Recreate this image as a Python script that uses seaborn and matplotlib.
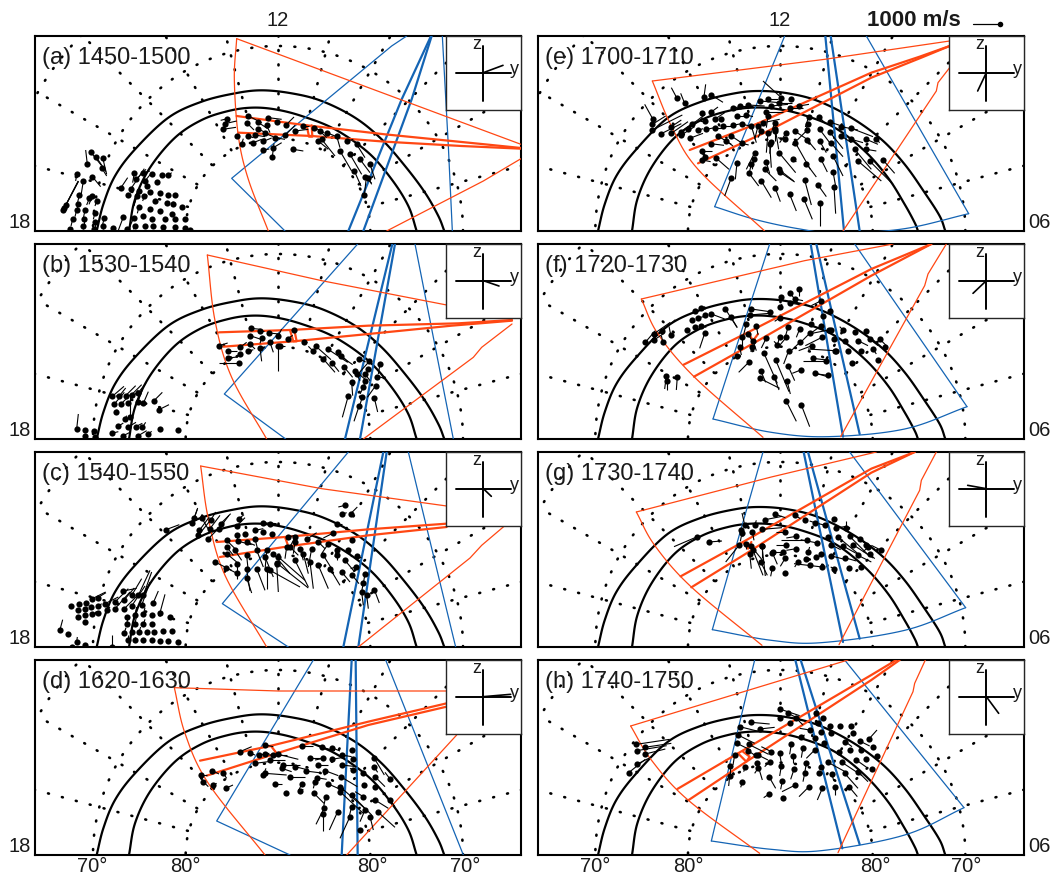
import numpy as np
import matplotlib
matplotlib.use("Agg")
import matplotlib.pyplot as plt
from matplotlib.collections import LineCollection
import pandas as pd
import seaborn as sns

# ---------- data: map positions (x, y, stick dx, stick dy) ----------
titles = ["(a) 1450-1500", "(b) 1530-1540", "(c) 1540-1550", "(d) 1620-1630",
          "(e) 1700-1710", "(f) 1720-1730", "(g) 1730-1740", "(h) 1740-1750"]

a_vec = [(157,385,-5,-43),(167,348,32,40),(203,365,12,50),(183,362,30,45),(200,395,15,25),(172,422,25,30),
 (125,415,-3,20),(92,508,38,-73),(85,522,45,-85),(88,515,42,-80),(145,435,-8,50),(172,480,-10,25),(133,478,-5,20),(130,505,-5,20),
 (125,522,-5,20),(113,550,-5,20),(150,522,-5,25),(148,550,0,15),(145,570,0,10),(180,530,-5,20),(185,495,-5,15),
 (163,487,-8,20),(105,578,0,5),(180,558,0,15),(208,545,-5,20),(205,570,0,10),(235,577,0,5),(178,578,0,5),
 (298,410,-5,30),(303,430,30,-30),(325,410,20,-5),(330,435,20,-25),(258,455,20,-30),(288,458,40,-60),
 (350,415,5,-5),(380,418,0,0),(400,418,10,-8),(365,437,0,0),(335,450,0,0),(312,465,-15,40),(345,468,0,0),(375,472,0,0),
 (400,478,0,0),(420,478,0,0),(280,478,5,-5),(305,480,-8,30),(328,480,-5,15),(360,495,0,0),(395,500,0,0),(415,503,0,0),(440,512,0,0),
 (312,512,-5,20),(345,520,0,0),(375,525,0,0),(410,535,0,0),(325,540,0,0),(352,548,0,0),(390,550,0,0),(420,550,0,0),
 (450,548,0,0),(265,543,-15,40),(297,545,-15,30),(300,570,-5,10),(330,570,0,0),(355,570,0,0),(385,572,0,0),(420,572,0,0),
 (450,575,0,0),(275,578,0,5),(465,583,0,0),
 (577,248,-20,5),(570,263,35,-8),(563,280,40,-6),(607,300,5,-5),(640,240,40,20),(637,262,20,20),(668,258,30,20),
 (700,245,40,5),(695,268,10,22),(725,258,5,5),(752,268,25,-25),(668,278,20,10),(640,300,15,5),(660,297,30,5),
 (690,292,25,10),(720,305,30,5),(750,298,30,-30),(620,323,5,-15),(655,320,25,-10),(685,316,25,-10),(715,335,25,-15),
 (683,342,20,-3),(712,362,5,-40),(775,340,30,5),(780,285,40,-5),(803,270,20,0),
 (838,275,30,15),(855,285,20,20),(875,290,25,10),(905,300,10,35),(850,315,30,25),(860,310,40,50),(935,315,20,-5),
 (915,345,35,60),(965,325,25,40),(945,355,35,60),(975,370,30,40),(1005,385,15,45),(958,405,20,45),(990,422,20,20),
 (1000,425,10,20),(988,478,5,-45)]
b_vec = [(232,457,35,-30),(252,457,20,-25),(272,455,30,-30),(290,452,30,-30),(308,448,25,-30),(238,480,30,-35),
 (258,480,30,-30),(280,478,30,-40),(308,475,15,-40),(325,478,15,-35),(242,505,5,-8),(270,525,5,-10),(250,547,15,-10),
 (278,550,25,-15),(302,548,20,-10),(322,550,10,-15),(357,470,25,-25),(372,497,30,-15),(125,555,5,-45),(150,558,5,5),
 (150,575,0,8),(178,560,0,8),(375,555,0,0),(430,558,0,0),(180,578,10,0),(230,568,20,-5),(265,575,20,-10),(310,575,25,-15),
 (340,570,10,-8),(285,520,0,-70),
 (647,253,30,3),(675,260,12,0),(702,267,30,3),(730,275,10,-20),(778,258,0,0),(645,275,30,10),(680,283,-5,15),(645,300,15,15),
 (705,295,10,30),(758,284,15,-10),(808,295,8,0),(553,305,25,-8),(580,320,25,0),(615,310,20,-15),(640,322,15,-5),(675,312,5,40),
 (730,305,0,75),(578,342,30,-3),(612,358,-60,0),(735,305,15,0),(615,330,-10,10),
 (843,307,45,40),(835,322,-15,-15),(878,315,60,40),(910,325,30,30),(865,345,35,40),(892,358,20,25),(918,337,35,25),
 (972,344,20,10),(1003,352,-40,45),(1035,360,-5,30),(928,370,25,30),(960,380,35,30),(990,390,15,20),(1027,398,25,5),
 (950,415,3,40),(985,430,-10,20),(1022,425,-25,35),(1018,462,10,42),(940,455,-18,65),(982,460,-10,30),(972,487,-15,45),
 (1000,375,-10,25),(990,410,-5,25),(965,390,10,20)]
c_vec = [(108,462,0,0),(132,457,0,0),(152,452,0,0),(172,440,40,-20),(188,437,25,-15),(130,475,0,0),(150,470,0,0),(168,465,5,-5),
 (190,463,10,-8),(210,455,40,-20),(240,450,40,-40),(268,443,30,-35),(265,417,40,-8),(130,495,0,0),(150,490,0,0),(170,487,0,0),
 (190,483,0,0),(215,475,10,-10),(240,470,45,-50),(268,470,40,-40),(290,462,40,-60),(320,460,25,-70),(150,510,0,0),(310,430,35,-75),
 (325,430,25,-70),(290,430,30,-50),(355,452,15,-35),(375,482,15,-55),(275,495,0,0),(300,490,5,-25),(325,487,5,-20),(350,490,0,0),
 (275,515,5,-20),(300,515,5,-25),(325,517,5,-15),(350,515,0,0),(268,542,5,-15),(290,540,5,-25),(312,540,5,-15),(335,540,0,0),
 (358,540,0,0),(385,538,0,0),(410,538,0,0),(280,565,0,-15),(300,565,0,-10),(325,565,0,0),(350,565,0,0),(375,567,0,0),(400,567,0,0),
 (430,570,0,0),(75,533,8,-30),(100,547,0,0),(125,570,2,-15),(150,580,0,0),(110,585,0,0),(230,585,0,-35),(405,495,0,0),
 (393,233,40,-15),(472,212,15,-40),(478,198,10,-30),(500,197,20,35),(493,235,30,-40),(490,250,40,-50),(527,205,15,-25),
 (525,230,30,-40),(552,230,30,-40),(518,262,50,-50),(557,215,30,-30),(605,222,25,-25),(612,200,15,-12),
 (575,265,25,25),(607,250,0,20),(630,247,0,-5),(660,235,25,-5),(685,212,40,3),(685,240,0,0),(712,245,0,0),(705,215,30,5),
 (610,268,40,10),(635,270,25,10),(660,260,10,40),(575,285,20,25),(600,295,20,30),(575,305,30,25),(540,330,50,25),(572,347,40,20),
 (605,337,0,35),(605,362,0,20),(635,310,5,50),(665,295,20,50),(695,295,-5,60),(690,315,25,60),(635,352,10,65),(635,378,15,45),
 (665,350,25,65),(695,352,0,60),(725,335,5,85),(715,305,50,60),(705,355,90,50),(755,285,-5,35),(725,333,95,75),(730,315,80,70),
 (760,255,20,-5),(780,255,-15,30),(815,262,30,-20),(780,270,-5,35),(765,285,25,25),(795,290,10,35),(780,325,40,80),(805,305,15,60),
 (830,290,-10,55),(825,330,10,80),(850,340,30,70),(850,270,20,20),(865,310,25,40),(885,350,30,50),(880,275,-20,30),(895,243,-30,15),
 (905,295,-5,20),(905,310,0,15),(930,325,25,30),(920,360,25,30),(940,295,10,20),(950,265,0,0),(965,313,15,5),(962,345,-15,5),
 (952,370,20,25),(990,365,-5,30),(985,393,-5,25),(980,420,5,40),(1018,413,15,40),(995,430,5,40),(930,160,-20,5),(920,187,15,-5),
 (947,185,20,-20),(905,215,15,0)]
d_vec = [(572,385,22,-10),(535,375,10,-5),(505,365,15,15),(497,345,20,0),(532,332,20,10),(565,340,10,15),(615,275,35,-15),(645,280,15,5),
 (690,255,25,5),(673,285,30,-5),(660,310,40,-5),(690,283,40,5),(705,300,45,0),(715,285,40,0),(730,283,60,15),(690,340,65,5),(685,345,8,-20),
 (745,315,50,0),(740,325,30,10),(765,352,45,0),(720,373,22,0),(780,320,40,10),(800,258,35,0),(825,293,40,0),(812,333,40,5),(850,315,30,0),
 (845,353,30,5),(840,365,-5,20),(870,332,40,15),(865,295,-25,5),(890,298,30,-5),(880,372,45,20),(860,262,40,10),(890,263,25,10),(920,285,30,5),
 (920,315,45,5),(917,350,50,30),(950,270,5,5),(955,298,5,5),(955,330,-10,-5),(985,340,5,5),(1018,295,30,50),(1018,322,10,15),(1020,350,30,30),
 (987,375,5,5),(1020,380,5,5),(1065,357,-15,-20),(985,410,-25,-15),(1020,420,40,25),(1065,420,15,20),(950,405,60,60),(915,380,80,70),(915,395,70,65),
 (800,373,-10,20),(795,393,10,-5),(752,400,5,5),(837,400,30,30),(872,410,-8,40),(868,443,-25,50),(865,462,0,50),(908,455,-25,55),(950,440,-10,40),
 (945,470,-30,65),(990,450,-15,35),(1030,457,50,45),(1005,470,10,40),(975,510,5,5)]
e_vec = [(345,250,-25,-45),(417,187,-17,-32),(440,202,-12,-30),(498,182,5,-37),(520,177,35,22),(343,265,40,-25),(343,282,90,-45),(370,293,60,-30),
 (400,272,30,-20),(400,292,50,-35),(430,287,40,-30),(430,297,40,-25),(455,307,40,-15),(450,280,45,-35),(462,265,40,-30),(492,232,0,-5),(520,228,20,-15),
 (500,255,-15,0),(530,250,30,-20),(548,250,0,-5),(480,283,15,-5),(505,280,25,-5),(530,275,25,0),(555,270,30,0),(585,268,25,-5),(612,265,25,5),(598,240,30,0),
 (625,237,20,5),(585,215,35,-3),(605,210,40,0),(630,207,50,3),(665,195,60,5),(690,190,30,0),(730,185,-55,-50),(758,190,0,0),(685,228,50,0),(700,210,50,-5),
 (722,200,40,0),(755,217,40,0),(783,210,30,-5),(580,300,30,20),(540,300,40,25),(565,315,20,15),(612,322,20,5),(518,323,40,5),(493,345,30,0),(533,365,40,35),
 (500,362,-5,20),(493,372,25,5),(640,270,15,50),(660,270,-10,40),(675,260,50,-10),(690,240,-5,35),(710,260,-10,30),(745,290,-20,30),(710,285,0,30),(690,290,-5,60),
 (700,318,-5,35),(670,285,-10,20),(695,325,5,70),(712,280,10,60),(740,310,-20,-5),(770,285,45,30),(812,243,-10,30),(810,265,-8,20),(808,282,-45,45),(808,312,25,30),
 (843,243,20,20),(875,258,30,10),(845,315,20,35),(845,280,30,40),(875,288,40,50),(910,272,50,10),(940,277,65,25),(880,322,35,40),(910,300,30,20),(940,310,35,10),
 (985,310,35,15),(1015,310,10,10),(985,340,30,5),(950,340,50,60),(885,360,30,60),(960,375,70,60),(995,375,70,70),(1035,372,35,40),(772,320,45,80),(723,350,50,60),
 (650,350,-25,50),(640,385,-5,20),(632,410,30,40),(680,400,35,35),(722,400,45,35),(725,408,45,30),(765,368,10,10),(805,383,30,40),(848,368,20,40),(800,432,20,75),
 (840,447,25,35),(885,407,10,55),(888,453,5,80),(712,457,15,40),(670,435,30,50),(755,475,20,50),(798,490,25,60),(845,500,0,70),(580,425,-20,55),(597,380,-5,50),
 (648,370,-5,30),(685,378,10,35)]
f_vec = [(322,295,30,-35),(347,270,50,-35),(372,262,40,-35),(348,288,30,-20),(375,295,-5,-20),(398,272,-5,-25),(448,258,0,0),(470,250,0,0),(470,200,0,0),(490,192,0,0),
 (480,222,20,-5),(500,212,0,0),(520,210,40,15),(462,228,0,0),(490,245,15,5),(500,268,-15,45),(562,195,35,55),(578,218,20,33),(635,213,60,-5),(640,195,55,8),(697,203,0,0),
 (730,158,0,-5),(757,148,15,20),(783,135,0,20),(727,190,5,-10),(755,177,30,5),(725,222,-15,10),(770,165,25,5),(625,240,-10,40),(630,270,15,25),(655,247,5,25),(612,278,0,35),
 (605,308,5,25),(645,290,10,30),(685,282,-15,30),(643,308,-5,15),(597,335,-10,10),(725,278,-8,30),(750,250,-10,35),(745,280,-25,30),(785,255,-10,25),(820,240,0,0),(850,245,-35,25),
 (815,268,-30,30),(787,293,-25,25),(822,305,-40,15),(852,280,-50,25),(872,258,-50,10),(752,320,-15,40),(718,302,-10,-10),(678,328,40,90),(713,348,40,95),(750,365,20,45),(632,355,-30,30),
 (668,380,15,35),(665,403,60,30),(708,398,15,40),(747,410,10,40),(788,378,-25,10),(830,387,35,10),(870,394,-40,-5),(825,343,40,5),(865,350,-70,0),(890,320,-80,-5),(745,472,30,60),
 (790,483,25,65),(888,285,0,0),(920,290,0,0),(930,320,0,0),(895,320,0,0),(915,258,-10,-10),(950,263,0,0),(985,262,0,0),(960,290,30,15),(995,285,25,20),(968,320,5,5),(1005,315,10,15),
 (1025,285,20,20),(1040,310,0,0),(1020,347,0,0),(942,358,0,0),(385,395,-5,40),(387,412,0,25),(418,398,-3,40),(855,215,0,0),(875,200,0,0),(850,170,-30,15),(880,258,0,0)]
g_vec = [(478,254,-70,30),(512,270,40,-3),(620,218,-8,-35),(650,220,5,-15),(682,203,50,-10),(712,187,30,10),(772,190,15,10),(800,203,0,0),(830,212,-15,-5),(862,220,-20,-5),
 (888,200,0,0),(895,228,30,-5),(925,227,0,-20),(612,243,-5,25),(643,240,5,25),(672,232,60,-5),(740,240,-25,0),(775,253,-30,5),(808,265,-80,0),(838,273,-50,-10),(870,255,0,-5),
 (900,255,60,50),(935,253,60,60),(965,262,45,30),(990,285,-15,15),(1030,295,-30,-15),(745,278,-30,0),(775,290,-30,5),(810,300,5,-15),(603,280,-40,50),(640,283,40,50),(672,282,0,35),
 (705,300,25,0),(703,302,15,35),(735,300,10,5),(742,318,-15,25),(668,330,20,40),(635,305,5,45),(703,348,-5,25),(742,362,0,0),(780,330,-10,15),(815,340,0,0),(853,345,-85,-10),(888,350,-10,-5),
 (932,347,0,0),(970,345,0,0),(850,307,-10,10),(880,312,40,10),(920,317,35,10),(960,310,40,20),(878,278,30,15),(915,282,45,25),(945,278,60,40),(985,278,0,0),(995,305,15,15),(835,315,0,0),
 (805,320,0,0),(610,235,5,20),(625,275,0,15),(645,295,30,75),(672,282,10,90)]
h_vec = [(272,338,50,-40),(298,312,40,-20),(296,272,90,-15),(320,262,80,-12),(295,253,100,-15),(322,282,60,-15),(725,147,60,20),(750,160,40,20),(775,175,20,20),(640,187,55,5),
 (727,173,0,0),(755,190,0,0),(665,207,45,-5),(605,200,60,15),(835,160,-5,10),(855,173,0,-5),(840,190,0,0),(875,197,0,0),(907,197,0,0),(938,198,0,0),(945,220,0,5),(992,238,25,-28),
 (815,210,-30,-5),(790,230,10,-5),(850,215,0,0),(880,220,0,0),(922,245,20,15),(965,243,30,15),(1005,262,0,0),(968,270,0,0),(858,248,0,0),(830,235,0,0),(600,225,50,25),(597,250,40,20),
 (632,253,60,30),(590,285,-5,30),(630,272,30,20),(660,285,30,15),(622,320,-5,15),(575,318,0,25),(575,348,-3,30),(613,367,-5,15),(660,325,-10,15),(695,305,-15,15),(730,318,-5,30),(765,288,0,20),
 (795,263,-5,30),(760,253,-5,30),(725,280,5,30),(830,270,-25,25),(805,310,-5,30),(768,328,-10,30),(693,350,20,35),(733,363,-5,25),(800,340,-5,25),(843,340,0,0),(882,342,5,20),(920,340,40,45),
 (960,335,30,30),(955,300,35,25),(870,307,55,30),(912,307,60,40),(903,275,0,10),(935,270,0,0),(985,297,0,0),(1002,327,0,0),(1018,288,0,0),(890,380,0,25),(933,380,25,30),(853,385,-15,35),
 (813,380,-30,30),(772,375,-40,20),(692,403,-15,10),(735,413,0,0),(655,285,0,0),(658,310,15,50),(700,275,-30,-15),(850,320,0,0)]

# radar fields of view
blue_thin = [
 [[(1115,0),(1070,30),(590,427),(750,585)], [(1222,0),(1240,330),(1252,585)]],
 [[(968,0),(568,450),(752,585)], [(1140,0),(1255,585)]],
 [[(940,0),(562,455),(760,585)], [(1120,0),(1262,585)]],
 [[(835,0),(545,483),(765,585)], [(1052,0),(1285,585)]],
 [[(740,0),(530,512)], [(1292,533),(985,0)]],
 [[(695,0),(525,525)], [(1287,488),(950,0)]],
 [[(675,0),(523,533)], [(1283,467),(935,0)]],
 [[(650,0),(520,543)], [(1278,443),(920,0)]]]
blue_arc = [None, None, None, None,
 [(530,512),(650,550),(780,578),(900,592),(1100,578),(1292,533)],
 [(525,525),(700,565),(870,578),(1100,555),(1287,488)],
 [(523,533),(700,565),(850,572),(1100,535),(1283,467)],
 [(520,543),(700,568),(850,572),(1100,525),(1278,443)]]
blue_thick = [
 [[(1188,0),(1100,190),(940,585)], [(1190,0),(1130,190),(985,585)]],
 [[(1072,0),(930,585)], [(1080,0),(975,585)]],
 [[(1045,0),(925,585)], [(1055,0),(970,585)]],
 [[(950,0),(920,585)], [(962,0),(968,585)]],
 [[(862,0),(918,585)], [(878,0),(965,585)]],
 [[(818,0),(915,578)], [(835,0),(965,570)]],
 [[(797,0),(915,570)], [(810,0),(965,560)]],
 [[(772,0),(913,565)], [(788,0),(965,553)]]]
red_thin = [
 [[(605,8),(1458,325)], [(1055,585),(1345,435),(1458,368)]],
 [[(517,33),(860,110),(1235,183)], [(985,585),(1315,340),(1340,310),(1431,240)]],
 [[(497,42),(860,110),(1235,162)], [(970,585),(1305,318),(1340,280),(1440,195)]],
 [[(418,83),(730,93),(1235,93)], [(935,585),(1265,225)]],
 [[(343,135),(860,70),(1235,15)], [(915,585),(1195,165),(1200,140),(1235,95)]],
 [[(310,165),(800,50),(1065,0)], [(908,578),(1160,125),(1170,90),(1225,0)]],
 [[(295,180),(700,75),(1015,0)], [(903,578),(1145,115),(1150,85),(1195,0)]],
 [[(278,198),(650,85),(930,0)], [(900,578),(1125,95),(1130,70),(1162,0)]]]
red_arc = [
 [(605,8),(598,130),(610,300),(640,430),(700,585)],
 [(517,33),(540,230),(590,400),(695,585)],
 [(497,42),(520,200),(570,370),(695,585)],
 [(418,83),(450,220),(520,370),(690,585)],
 [(343,135),(400,270),(480,400),(680,585)],
 [(310,165),(360,270),(470,400),(675,580)],
 [(295,180),(350,280),(460,405),(672,580)],
 [(278,198),(340,300),(450,420),(665,580)]]
red_thick = [
 [[(605,240),(815,268),(1050,295),(1350,325),(1458,336)], [(610,290),(830,300),(1050,317),(1280,330),(1458,338)], [(815,268),(822,302),(832,302),(830,268)]],
 [[(552,265),(765,258),(1000,245),(1270,238),(1431,228)], [(565,308),(775,292),(1000,270),(1250,245),(1431,230)], [(765,258),(775,292),(785,292),(778,258)]],
 [[(545,270),(750,255),(1000,232),(1235,215)], [(555,315),(760,283),(1000,250),(1235,225)], [(750,255),(760,283)]],
 [[(495,302),(705,258),(1000,185),(1235,130)], [(515,347),(725,280),(1000,195),(1235,140)], [(690,258),(708,258),(725,280)]],
 [[(455,342),(660,262),(1000,110),(1145,62),(1235,30)], [(480,382),(680,290),(1000,125),(1150,65),(1235,30)], [(660,262),(672,290)]],
 [[(437,362),(630,265),(1000,75),(1180,0)], [(468,398),(660,290),(1000,95),(1180,0)], [(630,265),(645,290),(660,270)]],
 [[(428,373),(615,270),(1000,50),(1130,0)], [(460,406),(640,295),(1000,62),(1130,0)], [(615,270),(630,290),(640,270)]],
 [[(418,387),(600,280),(1000,45),(1075,0)], [(452,420),(625,305),(1000,60),(1085,0)], [(600,280),(625,305),(635,290),(615,275)]]]

inset_stick = [(59,-22),(47,16),(24,23),(82,-7),(-26,55),(-40,38),(-56,-10),(37,50)]

oval_outer_left = [(185,585),(205,505),(240,420),(300,340),(400,245),(500,197),(600,172),(680,163),(770,172),(860,195),(960,245),(1040,310),(1110,390),(1170,470),(1210,540),(1228,585)]
oval_inner_left = [(282,585),(300,490),(345,395),(420,305),(500,252),(580,225),(650,215),(720,220),(800,240),(900,280),(1000,350),(1070,430),(1120,510),(1145,585)]
oval_outer_right = [(180,585),(200,505),(235,420),(295,340),(390,245),(490,197),(590,172),(665,165),(750,172),(840,195),(940,245),(1030,310),(1100,385),(1160,470),(1205,540),(1222,585)]
oval_inner_right = [(282,585),(298,490),(340,395),(410,305),(490,252),(570,225),(640,215),(710,218),(790,235),(890,275),(980,345),(1050,425),(1100,505),(1130,560),(1140,585)]

latitudes = ["70°", "80°", "80°", "70°"]
hour_top, hour_left, hour_right = "12", "18", "06"
speed_label = "1000 m/s"

all_vec = [a_vec, b_vec, c_vec, d_vec, e_vec, f_vec, g_vec, h_vec]

# ---------- style ----------
sns.set_theme(style="white")
plt.rcParams["font.family"] = ["Liberation Sans", "DejaVu Sans"]
plt.rcParams["path.simplify"] = False
RED, BLUE = "#FF4713", "#1464B4"
W, H = 1051, 877
fig = plt.figure(figsize=(W / 100, H / 100), dpi=100, facecolor="white")
tops = [36, 244, 452, 660]
lefts = [35, 538]
PW, PH = 486, 195


def smooth(pts, n=12):
    p = np.array(pts, float)
    p = np.vstack([2 * p[0] - p[1], p, 2 * p[-1] - p[-2]])
    out = []
    for i in range(1, len(p) - 2):
        for t in np.linspace(0, 1, n, endpoint=False):
            out.append(0.5 * ((2 * p[i]) + (p[i + 1] - p[i - 1]) * t
                              + (2 * p[i - 1] - 5 * p[i] + 4 * p[i + 1] - p[i + 2]) * t ** 2
                              + (3 * p[i] - p[i - 1] - 3 * p[i + 1] + p[i + 2]) * t ** 3))
    out.append(p[-2])
    return np.array(out)


def poly(ax, pts, color, lw, z=3, curved=False):
    q = smooth(pts) if curved else np.array(pts, float)
    ax.plot(q[:, 0], q[:, 1], color=color, lw=lw, zorder=z, solid_joinstyle="round")


def add_grid(ax, cx):
    dot = dict(color="black", lw=1.9, ls=(0, (0.35, 5.1)), dash_capstyle="round", zorder=1)
    t = np.linspace(0, 2 * np.pi, 721)
    for r in (277, 555, 832):
        ax.plot(cx + r * np.cos(t), 585 - r * np.sin(t), **dot)
    for ang in range(-75, 90, 15):
        r0 = 370 if abs(ang) <= 15 else 280
        a = np.radians(ang)
        ax.plot([cx + r0 * np.sin(a), cx + 832 * np.sin(a)],
                [585 - r0 * np.cos(a), 585 - 832 * np.cos(a)], **dot)


for i in range(8):
    col = i // 4
    row = i % 4
    ax = fig.add_axes([lefts[col] / W, 1 - (tops[row] + PH) / H, PW / W, PH / H])
    ax.set_xlim(0, 1458)
    ax.set_ylim(585, 0)
    ax.set_xticks([])
    ax.set_yticks([])
    ax.set_facecolor("white")
    for s in ax.spines.values():
        s.set_linewidth(1.5)
        s.set_color("black")
    add_grid(ax, 729 if col == 0 else 727)

    poly(ax, oval_outer_left if col == 0 else oval_outer_right, "black", 1.6, 2, True)
    poly(ax, oval_inner_left if col == 0 else oval_inner_right, "black", 1.6, 2, True)

    for p in blue_thin[i]:
        poly(ax, p, BLUE, 0.9)
    if blue_arc[i]:
        poly(ax, blue_arc[i], BLUE, 0.9, curved=True)
    for p in blue_thick[i]:
        poly(ax, p, BLUE, 1.6)
    for p in red_thin[i]:
        poly(ax, p, RED, 0.9, 3.5)
    poly(ax, red_arc[i], RED, 0.9, 3.5, True)
    for p in red_thick[i]:
        poly(ax, p, RED, 1.6, 3.5)

    df = pd.DataFrame(all_vec[i], columns=["x", "y", "u", "v"])
    segs = [[(r.x, r.y), (r.x + r.u, r.y + r.v)] for r in df.itertuples()]
    ax.add_collection(LineCollection(segs, colors="black", linewidths=0.8, zorder=4))
    sns.scatterplot(data=df, x="x", y="y", ax=ax, color="black", s=20, linewidth=0,
                    legend=False, zorder=5, clip_on=True)
    ax.set_xlabel("")
    ax.set_ylabel("")

    ax.text(22, 84, titles[i], fontsize=17, color="#1a1a1a", va="baseline", ha="left", zorder=8)

    ins = ax.inset_axes([1233 / 1458, 1 - 222 / 585, 1 - 1233 / 1458, 222 / 585])
    ins.set_xlim(1233, 1458)
    ins.set_ylim(222, 0)
    ins.set_xticks([])
    ins.set_yticks([])
    ins.set_facecolor("white")
    for s in ins.spines.values():
        s.set_linewidth(1.0)
    ins.plot([1262, 1427], [110, 110], color="black", lw=1.4)
    ins.plot([1345, 1345], [30, 195], color="black", lw=1.4)
    ins.plot([1345, 1345 + inset_stick[i][0]], [110, 110 + inset_stick[i][1]], color="black", lw=1.2)
    ins.text(1325, 25, "z", fontsize=13, ha="center", va="center", color="#1a1a1a")
    ins.text(1438, 100, "y", fontsize=13, ha="center", va="center", color="#1a1a1a")


def figtext(x, y, s, **kw):
    fig.text(x / W, 1 - y / H, s, va="center", color="#1a1a1a", **kw)


figtext(278, 21, hour_top, fontsize=14.5, ha="center")
figtext(780, 21, hour_top, fontsize=14.5, ha="center")
for y in (223, 431, 639, 846):
    figtext(31, y, hour_left, fontsize=14.5, ha="right")
    figtext(1028, y, hour_right, fontsize=14.5, ha="left")
for x, s in zip((92, 185, 372, 465), latitudes):
    figtext(x, 866, s, fontsize=14.5, ha="center")
for x, s in zip((595, 688, 875, 966), latitudes):
    figtext(x, 866, s, fontsize=14.5, ha="center")

figtext(867, 21, speed_label, fontsize=16, ha="left", fontweight="bold")
key = fig.add_axes([0, 0, 1, 1], facecolor="none")
key.set_xlim(0, W)
key.set_ylim(H, 0)
key.axis("off")
key.plot([973, 1000], [24, 24], color="black", lw=0.9)
key.plot([1000], [24], "o", color="black", ms=4, mew=0)

fig.savefig("out.png", dpi=100, facecolor="white")
